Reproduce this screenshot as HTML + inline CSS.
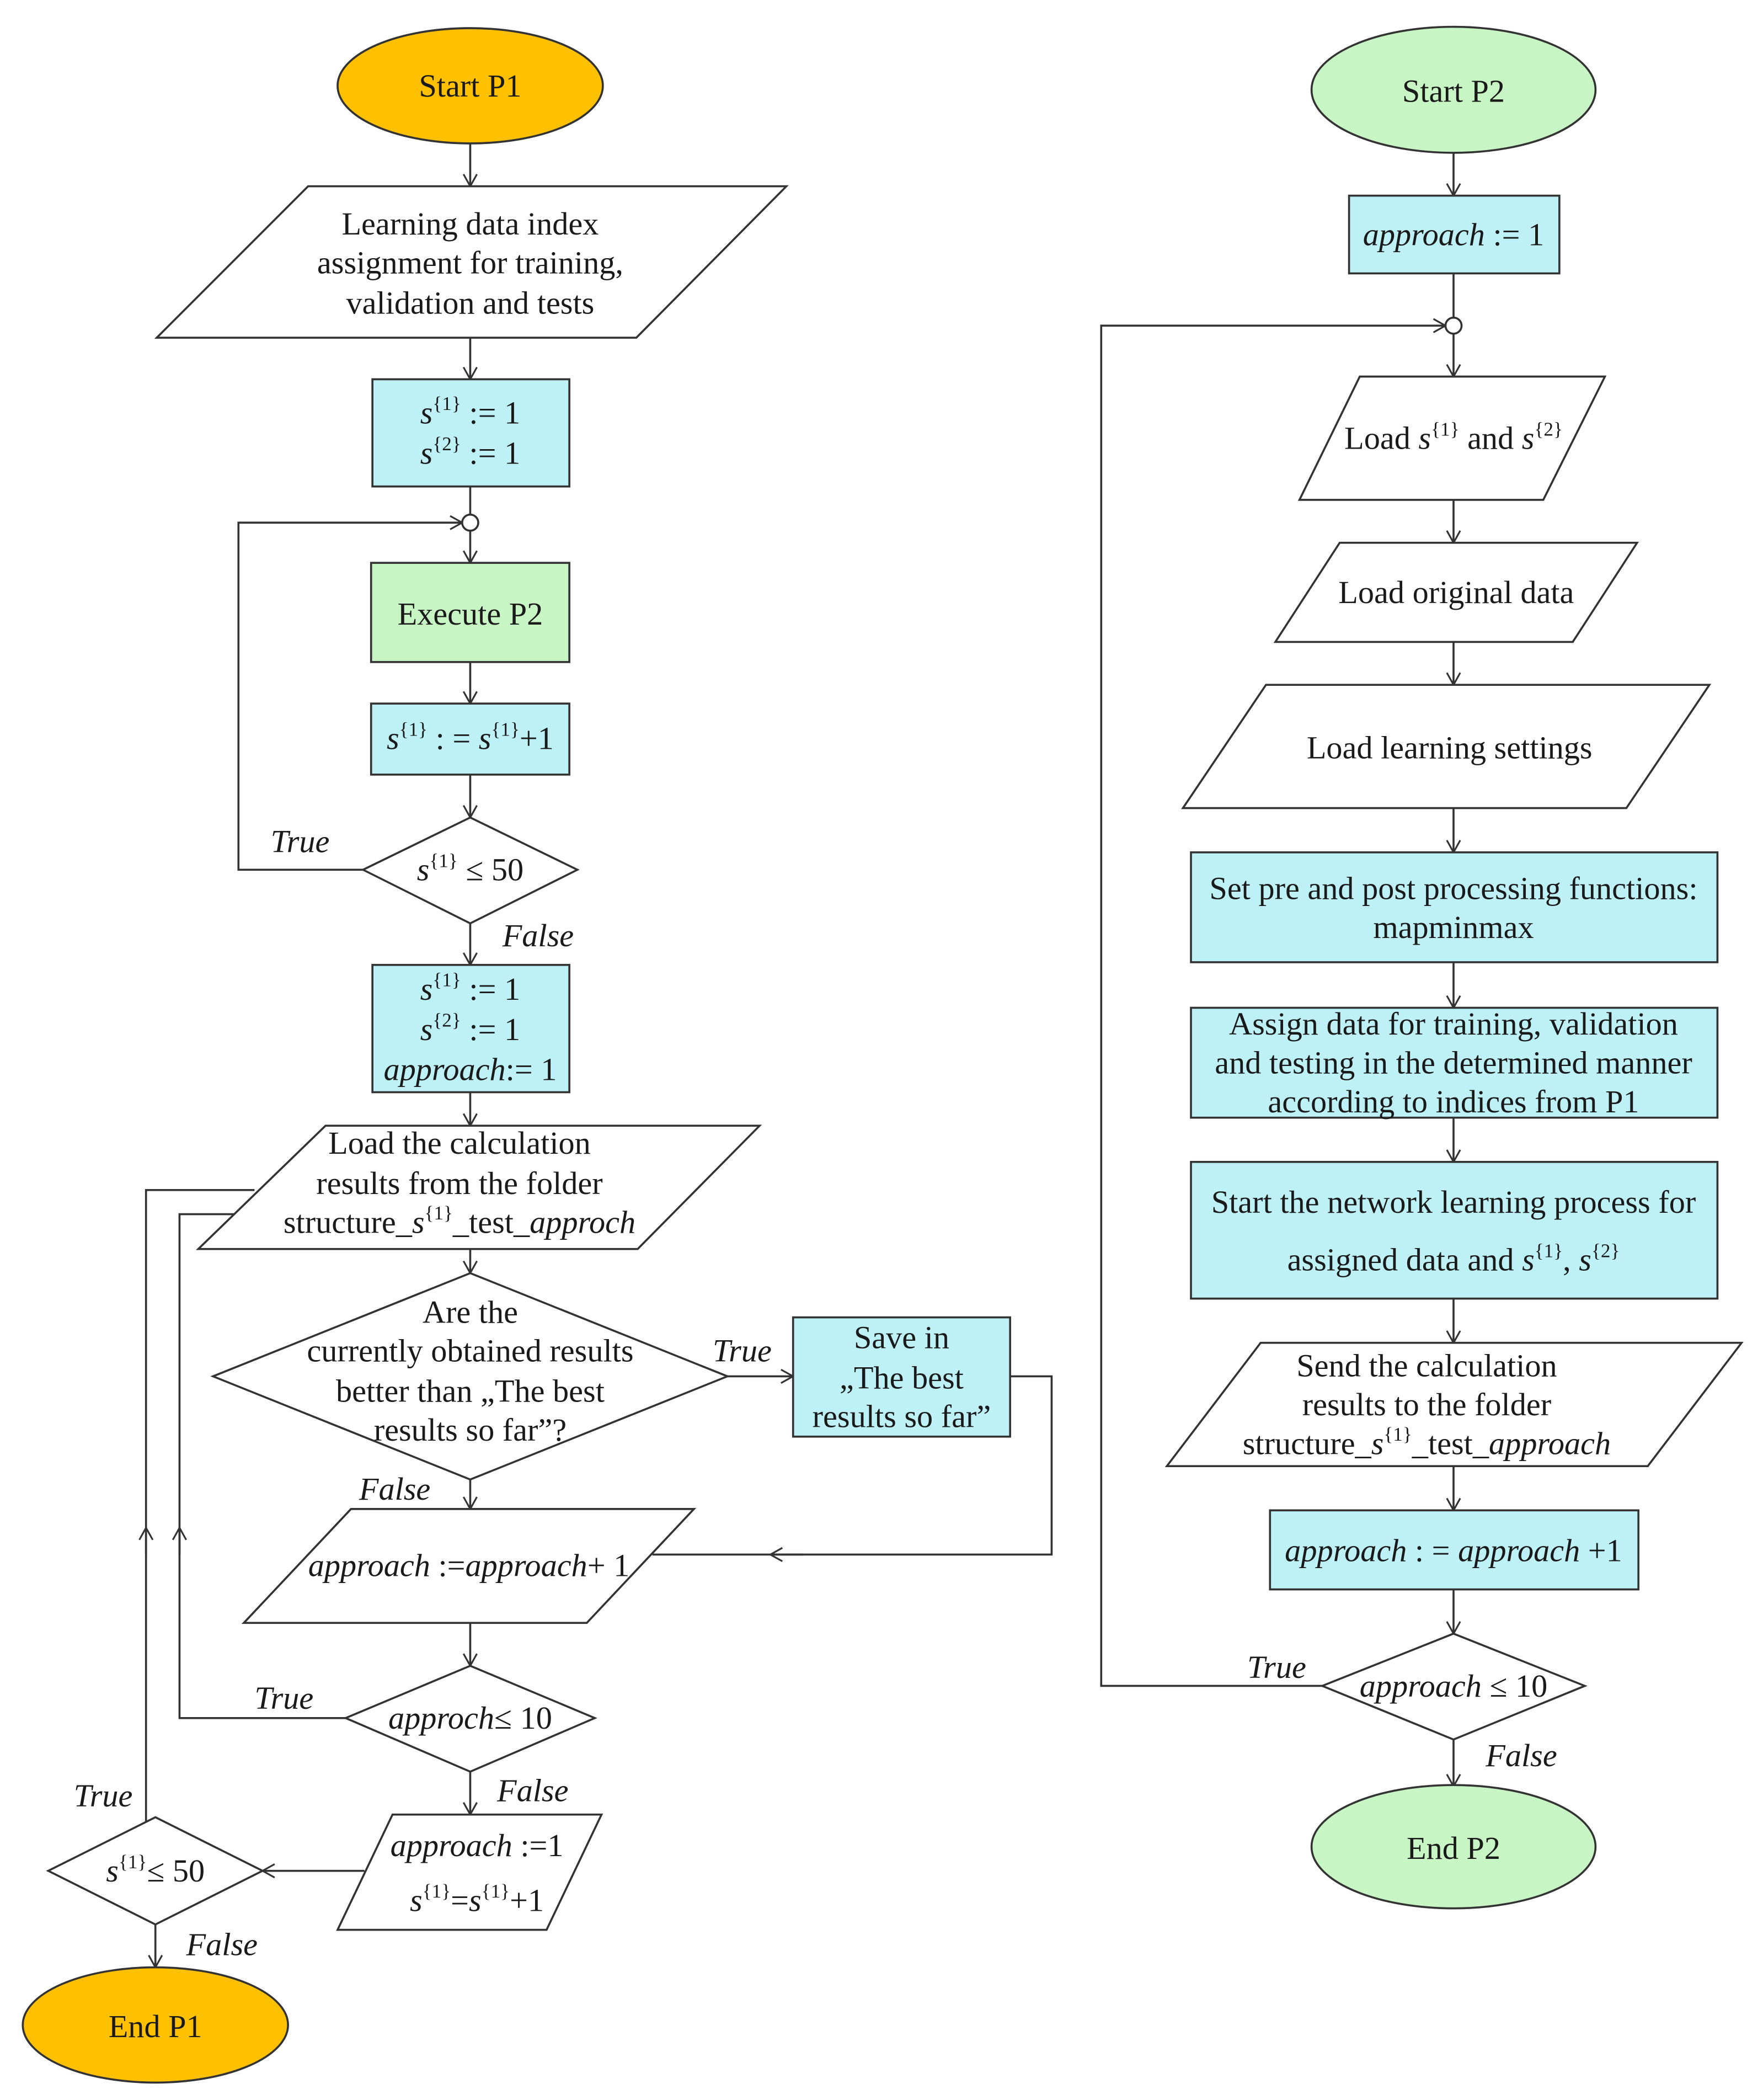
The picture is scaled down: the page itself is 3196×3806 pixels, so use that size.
<!DOCTYPE html>
<html><head><meta charset="utf-8"><style>
html,body{margin:0;padding:0;background:#fff}
svg{display:block}
text{font-family:"Liberation Serif",serif;font-size:24px;fill:#1a1a1a}
.i{font-style:italic}
.s{font-size:14.5px}
</style></head><body>
<svg width="3196" height="3806" viewBox="0 0 1316 1567" preserveAspectRatio="none" xmlns="http://www.w3.org/2000/svg">
<defs>
<marker id="a" markerWidth="14" markerHeight="14" refX="10" refY="6" orient="auto" markerUnits="userSpaceOnUse">
<path d="M1,1 L10,6 L1,11" fill="none" stroke="#333" stroke-width="1.3"/>
</marker>
</defs>
<g stroke="#333" stroke-width="1.5" fill="none">
<line x1="351" y1="107" x2="351" y2="139" marker-end="url(#a)"/>
<line x1="351" y1="252" x2="351" y2="283" marker-end="url(#a)"/>
<line x1="351" y1="363" x2="351" y2="384"/>
<polyline points="271,649 178,649 178,390 345,390" marker-end="url(#a)"/>
<line x1="351" y1="396" x2="351" y2="420" marker-end="url(#a)"/>
<line x1="351" y1="494" x2="351" y2="525" marker-end="url(#a)"/>
<line x1="351" y1="578" x2="351" y2="610" marker-end="url(#a)"/>
<line x1="351" y1="689" x2="351" y2="720" marker-end="url(#a)"/>
<line x1="351" y1="815" x2="351" y2="840" marker-end="url(#a)"/>
<line x1="351" y1="932" x2="351" y2="950" marker-end="url(#a)"/>
<line x1="543" y1="1027" x2="592" y2="1027" marker-end="url(#a)"/>
<polyline points="754,1027 785,1027 785,1160 487,1160"/>
<line x1="600" y1="1160" x2="575" y2="1160" marker-end="url(#a)"/>
<line x1="351" y1="1104" x2="351" y2="1126" marker-end="url(#a)"/>
<line x1="351" y1="1211" x2="351" y2="1243" marker-end="url(#a)"/>
<polyline points="258,1282 134,1282 134,906 176,906"/>
<line x1="134" y1="1160" x2="134" y2="1140" marker-end="url(#a)"/>
<polyline points="109,1360 109,888 190,888"/>
<line x1="109" y1="1160" x2="109" y2="1140" marker-end="url(#a)"/>
<line x1="351" y1="1322" x2="351" y2="1354" marker-end="url(#a)"/>
<line x1="272" y1="1396" x2="196" y2="1396" marker-end="url(#a)"/>
<line x1="116" y1="1436" x2="116" y2="1468" marker-end="url(#a)"/>
<line x1="1085" y1="114" x2="1085" y2="146" marker-end="url(#a)"/>
<line x1="1085" y1="204" x2="1085" y2="237"/>
<polyline points="987,1258 822,1258 822,243 1079,243" marker-end="url(#a)"/>
<line x1="1085" y1="249" x2="1085" y2="281" marker-end="url(#a)"/>
<line x1="1085" y1="373" x2="1085" y2="405" marker-end="url(#a)"/>
<line x1="1085" y1="479" x2="1085" y2="511" marker-end="url(#a)"/>
<line x1="1085" y1="603" x2="1085" y2="636" marker-end="url(#a)"/>
<line x1="1085" y1="718" x2="1085" y2="752" marker-end="url(#a)"/>
<line x1="1085" y1="834" x2="1085" y2="867" marker-end="url(#a)"/>
<line x1="1085" y1="969" x2="1085" y2="1002" marker-end="url(#a)"/>
<line x1="1085" y1="1094" x2="1085" y2="1127" marker-end="url(#a)"/>
<line x1="1085" y1="1186" x2="1085" y2="1219" marker-end="url(#a)"/>
<line x1="1085" y1="1298" x2="1085" y2="1333" marker-end="url(#a)"/>
</g>
<g stroke="#333" stroke-width="1.5">
<ellipse cx="351" cy="64" rx="99" ry="43" fill="#FFC000"/>
<polygon points="230,139 587,139 475,252 117,252" fill="#fff"/>
<rect x="278" y="283" width="147" height="80" fill="#BDF1F6"/>
<circle cx="351" cy="390" r="6" fill="#fff"/>
<rect x="277" y="420" width="148" height="74" fill="#C8F5C4"/>
<rect x="277" y="525" width="148" height="53" fill="#BDF1F6"/>
<polygon points="351,610 431,649 351,689 271,649" fill="#fff"/>
<rect x="278" y="720" width="147" height="95" fill="#BDF1F6"/>
<polygon points="243,840 567,840 476,932 148,932" fill="#fff"/>
<polygon points="351,950 543,1027 351,1104 159,1027" fill="#fff"/>
<rect x="592" y="983" width="162" height="89" fill="#BDF1F6"/>
<polygon points="262,1126 518,1126 438,1211 182,1211" fill="#fff"/>
<polygon points="351,1243 444,1282 351,1322 258,1282" fill="#fff"/>
<polygon points="293,1354 449,1354 408,1440 252,1440" fill="#fff"/>
<polygon points="116,1356 196,1396 116,1436 36,1396" fill="#fff"/>
<ellipse cx="116" cy="1511" rx="99" ry="43" fill="#FFC000"/>
<ellipse cx="1085" cy="67" rx="106" ry="47" fill="#C8F5C4"/>
<rect x="1007" y="146" width="157" height="58" fill="#BDF1F6"/>
<circle cx="1085" cy="243" r="6" fill="#fff"/>
<polygon points="1015,281 1198,281 1152,373 970,373" fill="#fff"/>
<polygon points="1000,405 1222,405 1174,479 952,479" fill="#fff"/>
<polygon points="945,511 1276,511 1214,603 883,603" fill="#fff"/>
<rect x="889" y="636" width="393" height="82" fill="#BDF1F6"/>
<rect x="889" y="752" width="393" height="82" fill="#BDF1F6"/>
<rect x="889" y="867" width="393" height="102" fill="#BDF1F6"/>
<polygon points="941,1002 1300,1002 1230,1094 871,1094" fill="#fff"/>
<rect x="948" y="1127" width="275" height="59" fill="#BDF1F6"/>
<polygon points="1085,1219 1183,1258 1085,1298 987,1258" fill="#fff"/>
<ellipse cx="1085" cy="1378" rx="106" ry="46" fill="#C8F5C4"/>
</g>
<g text-anchor="middle">
<text x="351" y="72">Start P1</text>
<text x="351" y="175">Learning data index</text>
<text x="351" y="204">assignment for training,</text>
<text x="351" y="234">validation and tests</text>
<text x="351" y="316"><tspan class="i">s</tspan><tspan class="s" dy="-10">{1}</tspan><tspan dy="10"> := 1</tspan></text>
<text x="351" y="346"><tspan class="i">s</tspan><tspan class="s" dy="-10">{2}</tspan><tspan dy="10"> := 1</tspan></text>
<text x="351" y="466">Execute P2</text>
<text x="351" y="559"><tspan class="i">s</tspan><tspan class="s" dy="-10">{1}</tspan><tspan dy="10"> : = </tspan><tspan class="i">s</tspan><tspan class="s" dy="-10">{1}</tspan><tspan dy="10">+1</tspan></text>
<text x="351" y="657"><tspan class="i">s</tspan><tspan class="s" dy="-10">{1}</tspan><tspan dy="10"> ≤ 50</tspan></text>
<text x="351" y="746"><tspan class="i">s</tspan><tspan class="s" dy="-10">{1}</tspan><tspan dy="10"> := 1</tspan></text>
<text x="351" y="776"><tspan class="i">s</tspan><tspan class="s" dy="-10">{2}</tspan><tspan dy="10"> := 1</tspan></text>
<text x="351" y="806"><tspan class="i">approach</tspan>:= 1</text>
<text x="343" y="861">Load the calculation</text>
<text x="343" y="891">results from the folder</text>
<text x="343" y="920">structure_<tspan class="i">s</tspan><tspan class="s" dy="-10">{1}</tspan><tspan dy="10">_test_</tspan><tspan class="i">approch</tspan></text>
<text x="351" y="987">Are the</text>
<text x="351" y="1016">currently obtained results</text>
<text x="351" y="1046">better than „The best</text>
<text x="351" y="1075">results so far”?</text>
<text x="673" y="1006">Save in</text>
<text x="673" y="1036">„The best</text>
<text x="673" y="1065">results so far”</text>
<text x="350" y="1176"><tspan class="i">approach</tspan> :=<tspan class="i">approach</tspan>+ 1</text>
<text x="351" y="1290"><tspan class="i">approch</tspan>≤ 10</text>
<text x="356" y="1385"><tspan class="i">approach</tspan> :=1</text>
<text x="356" y="1426"><tspan class="i">s</tspan><tspan class="s" dy="-10">{1}</tspan><tspan dy="10">=</tspan><tspan class="i">s</tspan><tspan class="s" dy="-10">{1}</tspan><tspan dy="10">+1</tspan></text>
<text x="116" y="1404"><tspan class="i">s</tspan><tspan class="s" dy="-10">{1}</tspan><tspan dy="10">≤ 50</tspan></text>
<text x="116" y="1520">End P1</text>
<text x="1085" y="76">Start P2</text>
<text x="1085" y="183"><tspan class="i">approach</tspan> := 1</text>
<text x="1085" y="335">Load <tspan class="i">s</tspan><tspan class="s" dy="-10">{1}</tspan><tspan dy="10"> and </tspan><tspan class="i">s</tspan><tspan class="s" dy="-10">{2}</tspan></text>
<text x="1087" y="450">Load original data</text>
<text x="1082" y="566">Load learning settings</text>
<text x="1085" y="671">Set pre and post processing functions:</text>
<text x="1085" y="700">mapminmax</text>
<text x="1085" y="772">Assign data for training, validation</text>
<text x="1085" y="801">and testing in the determined manner</text>
<text x="1085" y="830">according to indices from P1</text>
<text x="1085" y="905">Start the network learning process for</text>
<text x="1085" y="948">assigned data and <tspan class="i">s</tspan><tspan class="s" dy="-10">{1}</tspan><tspan dy="10">, </tspan><tspan class="i">s</tspan><tspan class="s" dy="-10">{2}</tspan></text>
<text x="1065" y="1027">Send the calculation</text>
<text x="1065" y="1056">results to the folder</text>
<text x="1065" y="1085">structure_<tspan class="i">s</tspan><tspan class="s" dy="-10">{1}</tspan><tspan dy="10">_test_</tspan><tspan class="i">approach</tspan></text>
<text x="1085" y="1165"><tspan class="i">approach</tspan> : = <tspan class="i">approach</tspan> +1</text>
<text x="1085" y="1266"><tspan class="i">approach</tspan>  ≤ 10</text>
<text x="1085" y="1387">End P2</text>
</g>
<g>
<text class="i" x="202" y="636">True</text>
<text class="i" x="375" y="706">False</text>
<text class="i" x="532" y="1016">True</text>
<text class="i" x="268" y="1119">False</text>
<text class="i" x="190" y="1275">True</text>
<text class="i" x="371" y="1344">False</text>
<text class="i" x="55" y="1348">True</text>
<text class="i" x="139" y="1459">False</text>
<text class="i" x="931" y="1252">True</text>
<text class="i" x="1109" y="1318">False</text>
</g>
</svg>
</body></html>
